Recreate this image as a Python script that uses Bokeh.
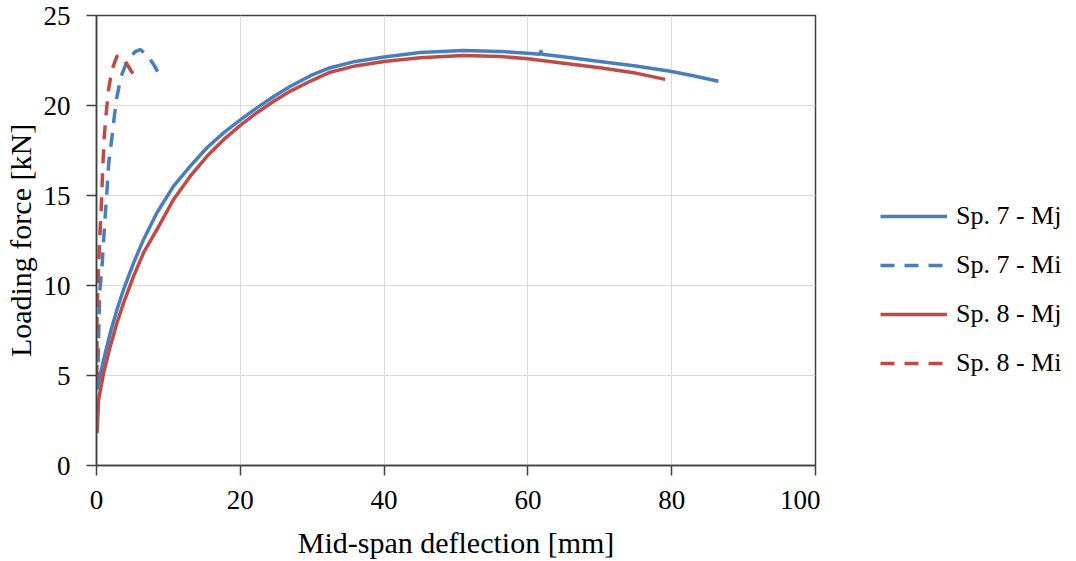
import numpy as np
from bokeh.plotting import figure
from bokeh.layouts import row
from bokeh.models import Range1d, Legend, LegendItem, FixedTicker
from bokeh.embed import file_html
from bokeh.resources import INLINE

# ---- data ----
sp7_mj_x = [0.07, 1.0, 1.92, 2.85, 3.77, 5.16, 6.55, 8.4, 10.72, 13.04, 15.36, 17.67, 20.0,
            22.3, 24.65, 26.97, 30.0, 32.5, 36.0, 40.0, 45.0, 51.0, 56.2, 60.0, 61.6, 61.8,
            62.0, 66.0, 70.0, 75.0, 79.8, 83.0, 86.5]
sp7_mj_y = [4.22, 5.9, 7.37, 8.67, 9.78, 11.26, 12.56, 14.04, 15.52, 16.63, 17.65, 18.48, 19.2,
            19.87, 20.5, 21.07, 21.7, 22.1, 22.45, 22.7, 22.95, 23.05, 23.0, 22.9, 22.85, 23.0,
            22.85, 22.65, 22.45, 22.2, 21.9, 21.65, 21.35]

sp7_mi_x = [0.16, 0.3, 0.44, 0.77, 1.0, 1.24, 1.47, 1.7, 2.17, 2.48, 2.85, 3.41, 4.24, 5.4,
            6.1, 7.0, 7.94, 8.97]
sp7_mi_y = [4.4, 7.2, 9.6, 11.07, 12.56, 14.04, 15.33, 16.8, 18.3, 19.4, 20.5, 21.6, 22.46,
            23.0, 23.1, 22.83, 22.28, 21.54]

sp8_mj_x = [0.07, 0.3, 1.0, 1.92, 2.85, 3.77, 5.16, 6.55, 8.4, 10.72, 13.04, 15.36, 17.67,
            20.0, 22.3, 24.65, 26.97, 30.0, 32.5, 36.0, 40.0, 45.0, 51.0, 56.2, 60.0, 65.0,
            70.0, 75.0, 79.1]
sp8_mj_y = [1.8, 3.67, 5.15, 6.63, 7.93, 9.04, 10.52, 11.82, 13.1, 14.78, 16.07, 17.18, 18.1,
            18.9, 19.6, 20.24, 20.8, 21.4, 21.85, 22.2, 22.45, 22.65, 22.78, 22.72, 22.6, 22.35,
            22.1, 21.8, 21.45]

sp8_mi_x = [0.05, 0.07, 0.07, 0.16, 0.3, 0.44, 0.63, 0.77, 0.9, 1.08, 1.36, 1.68, 2.17, 2.85,
            3.31, 4.0, 4.7, 5.16]
sp8_mi_y = [4.8, 6.8, 8.3, 9.6, 11.07, 12.56, 14.04, 15.5, 16.8, 18.3, 19.6, 20.9, 22.0, 22.74,
            22.78, 22.46, 22.0, 21.7]

x_ticks = [0, 20, 40, 60, 80, 100]
y_ticks = [0, 5, 10, 15, 20, 25]
labels = ["Sp. 7 - Mj", "Sp. 7 - Mi", "Sp. 8 - Mj", "Sp. 8 - Mi"]
colors = ["#4a7ebb", "#4a7ebb", "#be4b48", "#be4b48"]
dashes = ["solid", "14 10", "solid", "14 10"]

FONT = "Liberation Serif"
AX = "#404040"

p = figure(width=820, height=561, output_backend="svg", toolbar_location=None,
           x_range=Range1d(0, 100), y_range=Range1d(0, 25),
           min_border_left=96, min_border_right=5, min_border_top=15, min_border_bottom=96)
p.outline_line_color = AX
p.outline_line_width = 1.5

for ax in (p.xaxis[0], p.yaxis[0]):
    ax.axis_line_color = AX
    ax.axis_line_width = 1.5
    ax.major_tick_line_color = AX
    ax.major_tick_line_width = 1.5
    ax.major_tick_in = 0
    ax.major_tick_out = 10
    ax.minor_tick_line_color = None
    ax.major_label_text_font = FONT
    ax.major_label_text_font_size = "27px"
    ax.major_label_text_color = "black"
    ax.axis_label_text_font = FONT
    ax.axis_label_text_font_size = "30px"
    ax.axis_label_text_font_style = "normal"
    ax.axis_label_text_color = "black"

p.xaxis.ticker = FixedTicker(ticks=x_ticks)
p.yaxis.ticker = FixedTicker(ticks=y_ticks)
p.xaxis.axis_label = "Mid-span deflection [mm]"
p.yaxis.axis_label = "Loading force [kN]"
p.xaxis.major_label_standoff = 15
p.yaxis.major_label_standoff = 16
p.xaxis.axis_label_standoff = 14
p.yaxis.axis_label_standoff = 4

p.xgrid.ticker = FixedTicker(ticks=x_ticks)
p.ygrid.ticker = FixedTicker(ticks=y_ticks)
p.grid.grid_line_color = "#d9d9d9"
p.grid.grid_line_width = 1

series = [(sp7_mj_x, sp7_mj_y), (sp7_mi_x, sp7_mi_y), (sp8_mj_x, sp8_mj_y), (sp8_mi_x, sp8_mi_y)]
for (xs, ys), c, d in zip(series, colors, dashes):
    p.line(xs, ys, line_color=c, line_width=3.5, line_dash=d, line_join="round")

# legend panel (separate figure to the right of the plot)
lf = figure(width=256, height=561, output_backend="svg", toolbar_location=None,
            x_range=Range1d(0, 1), y_range=Range1d(0, 1), x_axis_type=None, y_axis_type=None,
            min_border=0)
lf.outline_line_color = None
lf.grid.visible = False
items = []
for l, c, d in zip(labels, colors, dashes):
    r = lf.line(np.array([np.nan, np.nan]), np.array([np.nan, np.nan]),
                line_color=c, line_width=3.5, line_dash=d)
    items.append(LegendItem(label=l, renderers=[r]))
legend = Legend(items=items, location=(60, 87), orientation="vertical",
                glyph_width=67, glyph_height=24, label_height=24, spacing=19,
                label_standoff=9, padding=0, margin=0,
                label_text_font=FONT, label_text_font_size="26px", label_text_color="black",
                border_line_color=None, background_fill_alpha=0)
lf.add_layout(legend, "center")

layout = row(p, lf)
open("out.html", "w").write(file_html(layout, INLINE))
